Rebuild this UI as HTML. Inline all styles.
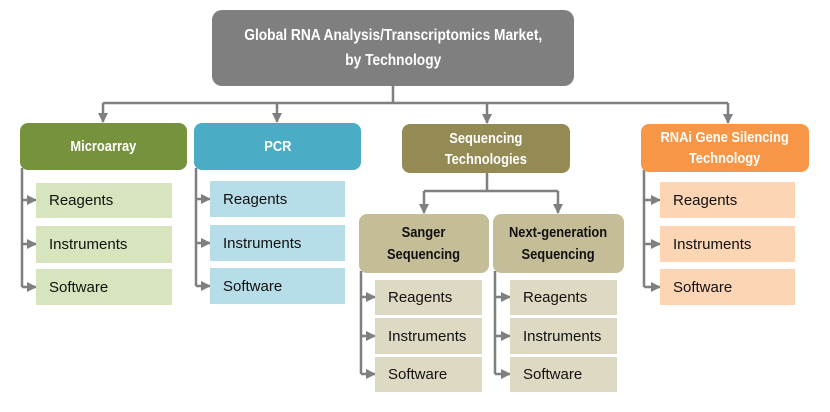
<!DOCTYPE html>
<html><head><style>
body{margin:0;width:830px;height:412px;background:#fff;position:relative;overflow:hidden;font-family:"Liberation Sans",sans-serif}
.b{position:absolute;display:flex;align-items:center;justify-content:center;text-align:center;color:#fff;font-weight:bold;font-size:15px;line-height:22px;border-radius:8px}
.b span{display:inline-block;transform:scaleX(0.86);white-space:nowrap}
.s{position:absolute;display:flex;align-items:center;padding-left:13px;box-sizing:border-box;font-family:"Liberation Sans",sans-serif;font-size:15px;color:#111}
svg{position:absolute;left:0;top:0}
</style></head><body>
<svg width="830" height="412">
<defs><marker id="a" markerWidth="10" markerHeight="10" refX="9" refY="5" orient="auto" markerUnits="userSpaceOnUse"><path d="M0,0L10,5L0,10z" fill="#7f7f7f"/></marker></defs>
<g stroke="#7f7f7f" stroke-width="2.5" fill="none">
<path d="M393 86V103M103 103H728"/>
<path d="M103 103V122" marker-end="url(#a)"/><path d="M277 103V122" marker-end="url(#a)"/><path d="M487 103V123" marker-end="url(#a)"/><path d="M728 103V123" marker-end="url(#a)"/>
<path d="M22 168V287"/><path d="M22 200H36" marker-end="url(#a)"/><path d="M22 244H36" marker-end="url(#a)"/><path d="M22 287H36" marker-end="url(#a)"/>
<path d="M196 168V286"/><path d="M196 199H210" marker-end="url(#a)"/><path d="M196 243H210" marker-end="url(#a)"/><path d="M196 286H210" marker-end="url(#a)"/>
<path d="M644 170V287"/><path d="M644 200H660" marker-end="url(#a)"/><path d="M644 244H660" marker-end="url(#a)"/><path d="M644 287H660" marker-end="url(#a)"/>
<path d="M487 173V191M424 191H558"/><path d="M424 191V213" marker-end="url(#a)"/><path d="M558 191V213" marker-end="url(#a)"/>
<path d="M361 271V374"/><path d="M361 297H375" marker-end="url(#a)"/><path d="M361 336H375" marker-end="url(#a)"/><path d="M361 374H375" marker-end="url(#a)"/>
<path d="M495 271V374"/><path d="M495 297H510" marker-end="url(#a)"/><path d="M495 336H510" marker-end="url(#a)"/><path d="M495 374H510" marker-end="url(#a)"/>
</g></svg>
<div class="b" style="left:212px;top:10px;width:362px;height:76px;background:#7f7f7f;font-size:16px;line-height:25px;border-radius:10px"><span>Global RNA Analysis/Transcriptomics Market,<br>by Technology</span></div>
<div class="b" style="left:20px;top:123px;width:167px;height:47px;background:#77923c"><span>Microarray</span></div>
<div class="b" style="left:194px;top:123px;width:167px;height:47px;background:#4bacc6"><span>PCR</span></div>
<div class="b" style="left:402px;top:124px;width:168px;height:49px;background:#948a54;line-height:21px"><span>Sequencing<br>Technologies</span></div>
<div class="b" style="left:641px;top:124px;width:168px;height:48px;background:#f79646;line-height:21px"><span>RNAi Gene Silencing<br>Technology</span></div>
<div class="b" style="left:359px;top:214px;width:130px;height:59px;background:#c4bd97;color:#111"><span>Sanger<br>Sequencing</span></div>
<div class="b" style="left:493px;top:214px;width:131px;height:59px;background:#c4bd97;color:#111"><span>Next-generation<br>Sequencing</span></div>
<div class="s" style="left:36px;top:183px;width:136px;height:35px;background:#d7e4bd">Reagents</div>
<div class="s" style="left:36px;top:226px;width:136px;height:37px;background:#d7e4bd">Instruments</div>
<div class="s" style="left:36px;top:269px;width:136px;height:36px;background:#d7e4bd">Software</div>
<div class="s" style="left:210px;top:181px;width:135px;height:36px;background:#b7dde8">Reagents</div>
<div class="s" style="left:210px;top:225px;width:135px;height:36px;background:#b7dde8">Instruments</div>
<div class="s" style="left:210px;top:268px;width:135px;height:36px;background:#b7dde8">Software</div>
<div class="s" style="left:660px;top:182px;width:135px;height:36px;background:#fcd5b5">Reagents</div>
<div class="s" style="left:660px;top:226px;width:135px;height:36px;background:#fcd5b5">Instruments</div>
<div class="s" style="left:660px;top:269px;width:135px;height:36px;background:#fcd5b5">Software</div>
<div class="s" style="left:375px;top:280px;width:107px;height:35px;background:#ddd9c3">Reagents</div>
<div class="s" style="left:375px;top:318px;width:107px;height:36px;background:#ddd9c3">Instruments</div>
<div class="s" style="left:375px;top:357px;width:107px;height:35px;background:#ddd9c3">Software</div>
<div class="s" style="left:510px;top:280px;width:107px;height:35px;background:#ddd9c3">Reagents</div>
<div class="s" style="left:510px;top:318px;width:107px;height:36px;background:#ddd9c3">Instruments</div>
<div class="s" style="left:510px;top:357px;width:107px;height:35px;background:#ddd9c3">Software</div>
</body></html>
